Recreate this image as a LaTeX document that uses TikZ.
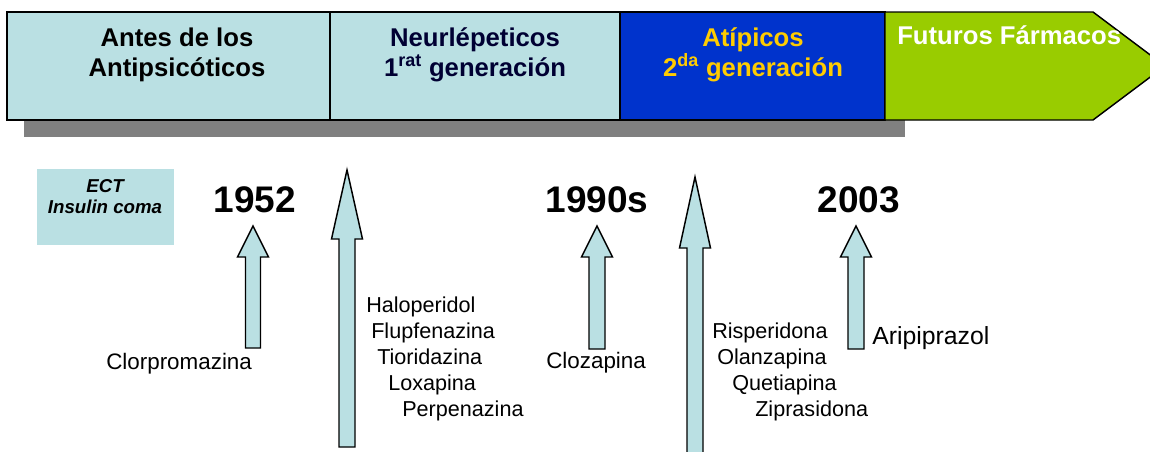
\documentclass[tikz,border=0pt]{standalone}
\usepackage{fontspec}
\setmainfont{Liberation Sans}

\definecolor{paleteal}{HTML}{BAE0E3}
\definecolor{eraBlue}{HTML}{0033CC}
\definecolor{eraGreen}{HTML}{99CC00}
\definecolor{eraGold}{HTML}{FFCC00}
\definecolor{eraNavy}{HTML}{000033}
\definecolor{shadowGray}{HTML}{808080}

\tikzset{
  era/.style={draw=black,line width=1.1pt},
  eratext/.style={align=center,font=\fontsize{19.25}{22.5}\selectfont\bfseries},
  year/.style={font=\fontsize{27.75}{30}\selectfont\bfseries},
  drug/.style={anchor=base west,inner sep=0pt,font=\fontsize{16.2}{18}\selectfont},
  blockarrow/.style={draw=black,fill=paleteal,line width=1.1pt,line join=miter}
}

% block arrow: x, tip, head base, bottom, shaft half width
\newcommand{\upblock}[5]{%
  \draw[blockarrow] (#1-#5,#4) -- (#1-#5,#3) -- (#1-15.5,#3) -- (#1,#2)
    -- (#1+15.5,#3) -- (#1+#5,#3) -- (#1+#5,#4) -- cycle;}

\begin{document}
\begin{tikzpicture}[x=0.75pt,y=-0.75pt]
  \clip (0,0) rectangle (1150,451);
  \fill[white] (0,0) rectangle (1150,451);

  % time band
  \fill[shadowGray] (24,120) rectangle (905,137);
  \draw[era,fill=paleteal] (7,12) rectangle (330,120);
  \draw[era,fill=paleteal] (330,12) rectangle (620,120);
  \draw[era,fill=eraBlue] (620,12) rectangle (885,120);
  \draw[era,fill=eraGreen,line join=miter] (885,12) -- (1093,12) -- (1165,66)
    -- (1093,120) -- (885,120) -- cycle;

  \node[eratext] (antes) at (177,55) {Antes de los\\Antipsic\'oticos};
  \node[eratext,text=eraNavy] (neuro) at (475,55)
    {Neurl\'epeticos\\1\textsuperscript{rat} generaci\'on};
  \node[eratext,text=eraGold] (atip) at (753,55)
    {At\'ipicos\\2\textsuperscript{da} generaci\'on};
  \node[eratext,text=white,anchor=west,inner sep=0pt] (futuros) at (897,35)
    {Futuros F\'armacos};

  % before
  \fill[paleteal] (37,169) rectangle (174,245);
  \node[align=center,font=\fontsize{14}{15.75}\selectfont\bfseries\itshape] (ect)
    at (105,197) {ECT\\Insulin coma};

  % years
  \node[year] (y1952) at (255,200) {1952};
  \node[year] (y1990) at (597,200) {1990s};
  \node[year] (y2003) at (859,200) {2003};

  % arrows
  \upblock{253}{226}{257}{348}{7.5}
  \upblock{347}{170}{239}{447}{8}
  \upblock{597}{226}{257}{349}{8}
  \upblock{695}{177}{248}{470}{8}
  \upblock{856}{226}{257}{349}{8}

  % drugs
  \node[drug,font=\fontsize{16.8}{18}\selectfont] (clorpro) at (106,369) {Clorpromazina};
  \node[drug,font=\fontsize{16.8}{18}\selectfont] (clozap) at (546,368) {Clozapina};
  \node[drug,font=\fontsize{18.6}{20}\selectfont] (aripi) at (872,344) {Aripiprazol};

  \foreach \name/\x/\y in {Haloperidol/366/312, Flupfenazina/371/338,
      Tioridazina/377/364, Loxapina/388/390, Perpenazina/402/416}
    \node[drug] (\name) at (\x,\y) {\name};

  \foreach \name/\x/\y in {Risperidona/712/338, Olanzapina/717/364,
      Quetiapina/732/390, Ziprasidona/755/416}
    \node[drug] (\name) at (\x,\y) {\name};
\end{tikzpicture}
\end{document}
